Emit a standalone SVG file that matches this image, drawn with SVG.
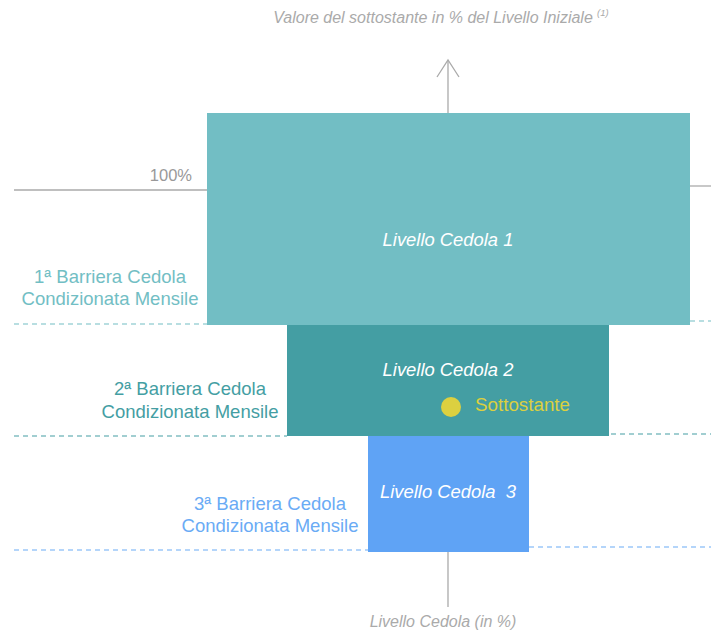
<svg xmlns="http://www.w3.org/2000/svg" width="711" height="630" viewBox="0 0 711 630">
<style>
text{font-family:"Liberation Sans",Arial,sans-serif}
.axis{stroke:#aaaaaa;stroke-width:1.3;fill:none}
.ax-t{fill:#aaaaaa;font-style:italic;font-size:16px}
.lab{font-size:18.5px;text-anchor:middle}
.box-t{fill:#ffffff;font-style:italic;font-size:18.4px;text-anchor:middle}
.d1{stroke:#72bec4;stroke-width:1.2;stroke-dasharray:5 4;fill:none}
.d2{stroke:#449ea3;stroke-width:1.2;stroke-dasharray:5 4;fill:none}
.d3{stroke:#6aabf5;stroke-width:1.2;stroke-dasharray:5 4;fill:none}
</style>
<rect width="711" height="630" fill="#ffffff"/>
<g id="connectors">
<line class="axis" x1="448" y1="60" x2="448" y2="113"/>
<polyline class="axis" points="437,77 448,60 459,77"/>
<line class="axis" x1="448" y1="552" x2="448" y2="607"/>
<line class="axis" x1="14" y1="190" x2="207" y2="190"/>
<line class="axis" x1="690" y1="186" x2="711" y2="186"/>
<line class="d1" x1="14" y1="324" x2="207" y2="324"/>
<line class="d1" x1="690" y1="321" x2="711" y2="321"/>
<line class="d2" x1="14" y1="436" x2="287" y2="436"/>
<line class="d2" x1="611" y1="434" x2="711" y2="434"/>
<line class="d3" x1="14" y1="550" x2="368" y2="550"/>
<line class="d3" x1="529" y1="547" x2="711" y2="547"/>
</g>
<g id="axis-labels">
<text class="ax-t" x="433" y="23" text-anchor="middle">Valore del sottostante in % del Livello Iniziale</text>
<text x="597" y="16" fill="#aaaaaa" font-style="italic" font-size="9.5">(1)</text>
<text class="ax-t" x="443" y="627" text-anchor="middle">Livello Cedola (in %)</text>
<text x="192" y="181" fill="#999999" font-size="16.5" text-anchor="end">100%</text>
</g>
<g id="box1">
<rect x="207" y="113" width="483" height="212" fill="#72bec4"/>
<text class="box-t" x="448" y="246">Livello Cedola 1</text>
</g>
<g id="box2">
<rect x="287" y="325" width="322" height="111" fill="#449ea3"/>
<text class="box-t" x="448" y="376">Livello Cedola 2</text>
</g>
<g id="box3">
<rect x="368" y="436" width="161" height="116" fill="#5fa3f5"/>
<text class="box-t" x="448" y="498" xml:space="preserve">Livello Cedola  3</text>
</g>
<g id="sottostante">
<circle cx="451" cy="407" r="10" fill="#dcd040"/>
<text x="475" y="411" fill="#dcd040" font-size="18.8">Sottostante</text>
</g>
<g id="barriera1">
<text class="lab" fill="#72bec4" x="110" y="283">1ª Barriera Cedola</text>
<text class="lab" fill="#72bec4" x="110" y="305">Condizionata Mensile</text>
</g>
<g id="barriera2">
<text class="lab" fill="#449ea3" x="190" y="395">2ª Barriera Cedola</text>
<text class="lab" fill="#449ea3" x="190" y="418">Condizionata Mensile</text>
</g>
<g id="barriera3">
<text class="lab" fill="#6aabf5" x="270" y="510">3ª Barriera Cedola</text>
<text class="lab" fill="#6aabf5" x="270" y="532">Condizionata Mensile</text>
</g>
</svg>
